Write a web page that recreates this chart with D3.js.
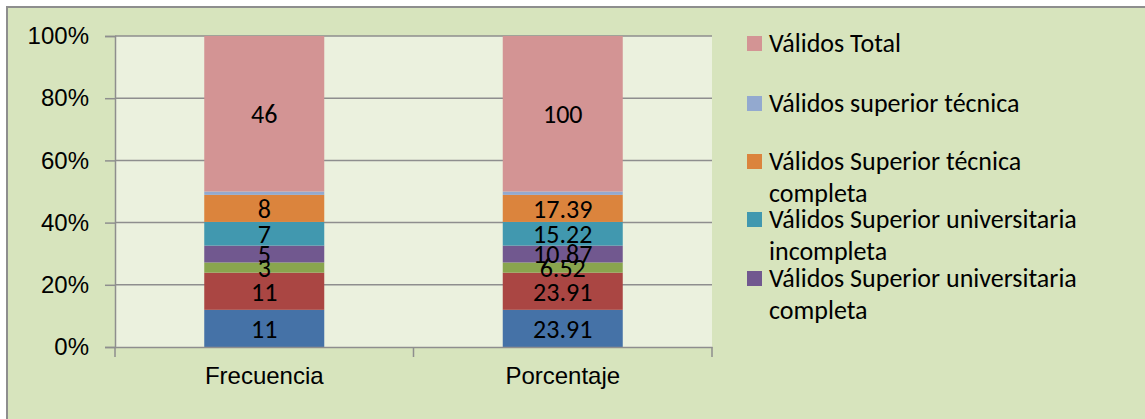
<!DOCTYPE html>
<html>
<head>
<meta charset="utf-8">
<script src="https://cdn.jsdelivr.net/npm/d3@7"></script>
<style>
  html, body { margin: 0; padding: 0; background: #fff; }
  svg { display: block; font-family: Carlito, Lato, "Open Sans", sans-serif; }
</style>
</head>
<body>
<svg id="chart" width="1145" height="419"></svg>
<script>
// categories on the x axis
const categories = ["Frecuencia", "Porcentaje"];

// series, bottom of the stack first
const seriesNames = [
  "Válidos Primaria",
  "Válidos Secundaria",
  "Válidos Técnica",
  "Válidos Superior universitaria completa",
  "Válidos Superior universitaria incompleta",
  "Válidos Superior técnica completa",
  "Válidos superior técnica",
  "Válidos Total",
];
const frecuencia = [11, 11, 3, 5, 7, 8, 1, 46];
const porcentaje = [23.91, 23.91, 6.52, 10.87, 15.22, 17.39, 2.17, 100];
const showLabel = [true, true, true, true, true, true, false, true];
const colors = ["#4572a7", "#aa4643", "#89a54e", "#71588f", "#4198af", "#db843d", "#93a9cf", "#d39494"];

// legend as it appears (the box cuts the list after five entries)
const legendItems = [
  { name: "Válidos Total", lines: ["Válidos Total"] },
  { name: "Válidos superior técnica", lines: ["Válidos superior técnica"] },
  { name: "Válidos Superior técnica completa", lines: ["Válidos Superior técnica", "completa"] },
  { name: "Válidos Superior universitaria incompleta", lines: ["Válidos Superior universitaria", "incompleta"] },
  { name: "Válidos Superior universitaria completa", lines: ["Válidos Superior universitaria", "completa"] },
];
const yTicks = [0, 0.2, 0.4, 0.6, 0.8, 1];

const svg = d3.select("#chart");
const axisFont = 24;
const legendFont = 26;
const labelFont = 26;

// outer chart frame (runs off the right and bottom of the picture)
svg.append("rect")
  .attr("x", 7).attr("y", 7)
  .attr("width", 1160).attr("height", 430)
  .attr("fill", "#d7e4bd")
  .attr("stroke", "#8e8e8e")
  .attr("stroke-width", 2);

const plot = { left: 115, right: 712, top: 36, bottom: 347 };

const x = d3.scaleBand()
  .domain(categories)
  .range([plot.left, plot.right])
  .paddingInner(0)
  .paddingOuter(0);

const y = d3.scaleLinear().domain([0, 1]).range([plot.bottom, plot.top]);

// plot background
svg.append("rect")
  .attr("x", plot.left).attr("y", plot.top)
  .attr("width", plot.right - plot.left).attr("height", plot.bottom - plot.top)
  .attr("fill", "#ebf1de");

// gridlines
svg.append("g")
  .selectAll("line")
  .data(yTicks.filter(d => d > 0))
  .join("line")
  .attr("x1", plot.left).attr("x2", plot.right)
  .attr("y1", d => y(d)).attr("y2", d => y(d))
  .attr("stroke", "#8e8e8e")
  .attr("stroke-width", 1.5);

// stacked data
const table = categories.map((c, i) => {
  const row = { cat: c };
  const vals = i === 0 ? frecuencia : porcentaje;
  seriesNames.forEach((s, j) => { row[s] = vals[j]; });
  return row;
});
const stack = d3.stack().keys(seriesNames).offset(d3.stackOffsetExpand);
const layers = stack(table);

const barW = 120;
const layerG = svg.append("g")
  .selectAll("g")
  .data(layers)
  .join("g")
  .attr("fill", (d, i) => colors[i]);

layerG.selectAll("rect")
  .data(d => d)
  .join("rect")
  .attr("x", d => x(d.data.cat) + x.bandwidth() / 2 - barW / 2)
  .attr("width", barW)
  .attr("y", d => y(d[1]))
  .attr("height", d => y(d[0]) - y(d[1]));

// data labels
layers.forEach((layer, i) => {
  if (!showLabel[i]) return;
  svg.append("g")
    .selectAll("text")
    .data(layer)
    .join("text")
    .attr("x", d => x(d.data.cat) + x.bandwidth() / 2)
    .attr("y", d => (y(d[0]) + y(d[1])) / 2)
    .attr("dy", "0.36em")
    .attr("text-anchor", "middle")
    .attr("font-size", labelFont)
    .attr("fill", "#000")
    .text(d => d.data[layer.key]);
});

// y axis
const yAxis = svg.append("g")
  .attr("transform", `translate(${plot.left},0)`)
  .call(d3.axisLeft(y).tickValues(yTicks).tickFormat(d3.format(".0%")).tickSize(10).tickPadding(16));
yAxis.selectAll("path, line").attr("stroke", "#8e8e8e").attr("stroke-width", 1.5);
yAxis.selectAll("text").attr("font-size", axisFont).attr("fill", "#000").attr("font-family", null);

// x axis
const xAxis = svg.append("g")
  .attr("transform", `translate(0,${plot.bottom})`)
  .call(d3.axisBottom(x).tickSize(0).tickSizeOuter(0).tickPadding(20));
xAxis.select("path").attr("stroke", "#8e8e8e").attr("stroke-width", 1.5);
xAxis.selectAll("text").attr("font-size", axisFont).attr("fill", "#000").attr("font-family", null);
// category separators
svg.append("g")
  .selectAll("line")
  .data([...categories.map(c => x(c)), plot.right])
  .join("line")
  .attr("x1", d => d).attr("x2", d => d)
  .attr("y1", plot.bottom).attr("y2", plot.bottom + 10)
  .attr("stroke", "#8e8e8e")
  .attr("stroke-width", 1.5);

// legend
const legendTop = [43, 103, 161, 219, 278];
const legend = svg.append("g");
legendItems.forEach((item, i) => {
  const cy = legendTop[i];
  legend.append("rect")
    .attr("x", 747).attr("y", cy - 7)
    .attr("width", 15).attr("height", 15)
    .attr("fill", colors[seriesNames.indexOf(item.name)]);
  legend.append("text")
    .attr("x", 769)
    .attr("y", cy)
    .attr("font-size", legendFont)
    .attr("fill", "#000")
    .selectAll("tspan")
    .data(item.lines)
    .join("tspan")
    .attr("x", 769)
    .attr("dy", (d, k) => (k === 0 ? "0.36em" : "1.23em"))
    .text(d => d);
});
</script>
</body>
</html>
